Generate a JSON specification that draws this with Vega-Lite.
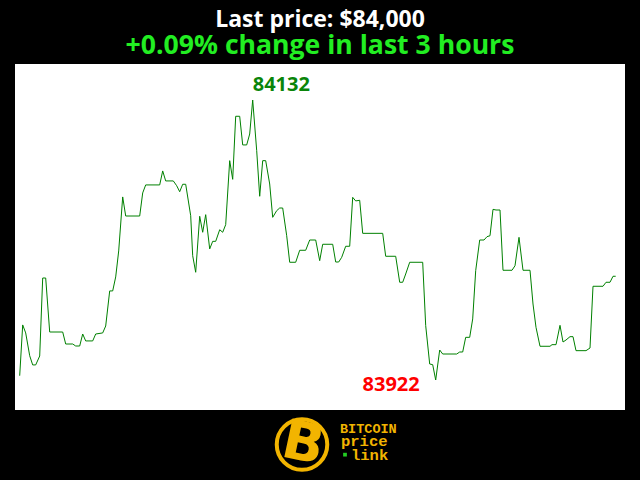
{
  "$schema": "https://vega.github.io/schema/vega-lite/v6.json",
  "autosize": "none",
  "width": 610,
  "height": 346,
  "padding": {"left": 15, "right": 15, "top": 64, "bottom": 70},
  "background": "black",
  "view": {"fill": "white", "stroke": null},
  "title": {
    "text": "Last price: $84,000",
    "subtitle": "+0.09% change in last 3 hours",
    "color": "white",
    "subtitleColor": "#22ee22",
    "font": "Open Sans",
    "subtitleFont": "Open Sans",
    "fontSize": 23,
    "subtitleFontSize": 26.6,
    "fontWeight": "bold",
    "subtitleFontWeight": "bold",
    "anchor": "middle",
    "offset": 4,
    "subtitlePadding": 1
  },
  "datasets": {
    "price": [
      {"t":4.7,"v":83925.2},{"t":7.7,"v":83963.3},{"t":10.7,"v":83957.3},{"t":14.7,"v":83940.2},{"t":17.7,"v":83933.3},{"t":20.7,"v":83933.3},{"t":24.7,"v":83940},{"t":27.7,"v":83998.5},{"t":30.7,"v":83998.5},{"t":34.7,"v":83958},{"t":47.7,"v":83958},{"t":50.7,"v":83949},{"t":57.7,"v":83949},{"t":60.7,"v":83947.5},{"t":64.7,"v":83947.5},{"t":67.7,"v":83956.5},{"t":70.7,"v":83951.3},{"t":77.7,"v":83951.3},{"t":80.7,"v":83956.5},{"t":87.7,"v":83957.3},{"t":90.7,"v":83962.5},{"t":94.7,"v":83988.8},{"t":97.7,"v":83988.8},{"t":100.7,"v":83999.3},{"t":103.7,"v":84018.8},{"t":107.7,"v":84059.3},{"t":110.7,"v":84045},{"t":124.7,"v":84045},{"t":127.7,"v":84062.3},{"t":130.7,"v":84068.3},{"t":144.7,"v":84068.3},{"t":147.7,"v":84078.8},{"t":150.7,"v":84071.3},{"t":158.3,"v":84071.3},{"t":161.7,"v":84067.7},{"t":164.7,"v":84063.2},{"t":167.7,"v":84068.8},{"t":170.7,"v":84068.8},{"t":175.7,"v":84045.2},{"t":177.7,"v":84015.2},{"t":180.7,"v":84002.8},{"t":184.7,"v":84044.8},{"t":187.7,"v":84032.8},{"t":190.7,"v":84046},{"t":194.7,"v":84020.3},{"t":197.7,"v":84026},{"t":200.7,"v":84026},{"t":204.7,"v":84034.7},{"t":207.7,"v":84032.8},{"t":210.7,"v":84038.5},{"t":214.7,"v":84086.5},{"t":217.7,"v":84072.5},{"t":220.7,"v":84119.8},{"t":224.7,"v":84119.8},{"t":227.7,"v":84098.3},{"t":231.7,"v":84098.3},{"t":234.7,"v":84106.5},{"t":237.7,"v":84132},{"t":241.7,"v":84094},{"t":244.7,"v":84059.8},{"t":247.7,"v":84086.5},{"t":250.7,"v":84086.5},{"t":254.7,"v":84069},{"t":257.7,"v":84044},{"t":261.7,"v":84049},{"t":264.7,"v":84051},{"t":267.7,"v":84051},{"t":271.7,"v":84030.2},{"t":274.7,"v":84010.3},{"t":280.7,"v":84010.3},{"t":284.7,"v":84019.3},{"t":290.7,"v":84019.3},{"t":294.7,"v":84027},{"t":300.7,"v":84027},{"t":304.7,"v":84011.5},{"t":307.7,"v":84023.8},{"t":317.7,"v":84023.8},{"t":320.7,"v":84010.5},{"t":323.7,"v":84010.5},{"t":326.7,"v":84014},{"t":330.7,"v":84022.3},{"t":334.7,"v":84022.3},{"t":337.7,"v":84059},{"t":340.7,"v":84056.3},{"t":344.7,"v":84056.8},{"t":347.7,"v":84032},{"t":367.7,"v":84032},{"t":370.7,"v":84014.8},{"t":380.7,"v":84014.8},{"t":384.7,"v":83995.3},{"t":387.7,"v":83995.3},{"t":390.7,"v":84001.5},{"t":394.7,"v":84010.3},{"t":407.7,"v":84010.3},{"t":410.7,"v":83962.8},{"t":414.7,"v":83934},{"t":417.7,"v":83933.5},{"t":420.7,"v":83922},{"t":424.7,"v":83944.5},{"t":427.7,"v":83941.5},{"t":441.7,"v":83941.5},{"t":444.7,"v":83943},{"t":447.7,"v":83943},{"t":450.7,"v":83954},{"t":454.7,"v":83954},{"t":457.7,"v":83967.8},{"t":460.7,"v":84004},{"t":464.7,"v":84027},{"t":469,"v":84027},{"t":472,"v":84029.5},{"t":475,"v":84030.2},{"t":478,"v":84050},{"t":481,"v":84049.5},{"t":485,"v":84049.5},{"t":488,"v":84004.3},{"t":497,"v":84004.3},{"t":500,"v":84007.7},{"t":504,"v":84029},{"t":508,"v":84004.3},{"t":515,"v":84004.3},{"t":518,"v":83979},{"t":521,"v":83961.5},{"t":525,"v":83947.3},{"t":535,"v":83947.3},{"t":537,"v":83948.5},{"t":541,"v":83948.5},{"t":545,"v":83963},{"t":548,"v":83950.5},{"t":551,"v":83952},{"t":555,"v":83954.5},{"t":558,"v":83954.5},{"t":561,"v":83944},{"t":571,"v":83944},{"t":575,"v":83946},{"t":578,"v":83992.3},{"t":588,"v":83992.3},{"t":591,"v":83995.3},{"t":595,"v":83995.3},{"t":598,"v":83999.8},{"t":600.7,"v":83999.8}
    ]
  },
  "data": {"name": "price"},
  "layer": [
    {
      "mark": {"type": "line", "color": "green", "strokeWidth": 1},
      "encoding": {
        "x": {"field": "t", "type": "quantitative", "scale": {"domain": [0, 610], "nice": false, "zero": false}, "axis": null},
        "y": {"field": "v", "type": "quantitative", "scale": {"domain": [83899.5, 84159], "nice": false, "zero": false}, "axis": null}
      }
    },
    {
      "transform": [
        {"joinaggregate": [{"op": "max", "field": "v", "as": "vmax"}]},
        {"filter": "datum.v === datum.vmax"}
      ],
      "mark": {"type": "text", "align": "left", "baseline": "alphabetic", "dy": -9, "font": "Open Sans", "fontWeight": "bold", "fontSize": 20, "color": "#0a850a"},
      "encoding": {
        "x": {"field": "t", "type": "quantitative"},
        "y": {"field": "v", "type": "quantitative"},
        "text": {"field": "v", "type": "quantitative", "format": "d"}
      }
    },
    {
      "transform": [
        {"joinaggregate": [{"op": "min", "field": "v", "as": "vmin"}]},
        {"filter": "datum.v === datum.vmin"}
      ],
      "mark": {"type": "text", "align": "right", "baseline": "alphabetic", "dx": -16, "dy": 11, "font": "Open Sans", "fontWeight": "bold", "fontSize": 20, "color": "red"},
      "encoding": {
        "x": {"field": "t", "type": "quantitative"},
        "y": {"field": "v", "type": "quantitative"},
        "text": {"field": "v", "type": "quantitative", "format": "d"}
      }
    },
    {
      "data": {"values": [{"part": "ring"}]},
      "mark": {"type": "point", "shape": "circle", "size": 2552, "filled": false, "stroke": "#f2b400", "strokeWidth": 4, "opacity": 1},
      "encoding": {
        "x": {"datum": 287, "type": "quantitative"},
        "y": {"datum": 83873.6, "type": "quantitative"}
      }
    },
    {
      "data": {"values": [{"part": "B"}]},
      "mark": {"type": "text", "text": "B", "font": "DejaVu Sans", "fontWeight": "bold", "fontSize": 54, "angle": 12, "align": "center", "baseline": "middle", "color": "#f2b400"},
      "encoding": {
        "x": {"datum": 288, "type": "quantitative"},
        "y": {"datum": 83873.6, "type": "quantitative"}
      }
    },
    {
      "data": {"values": [{"part": "BITCOIN"}]},
      "mark": {"type": "text", "text": "BITCOIN", "font": "Liberation Mono", "fontWeight": "bold", "fontSize": 13.5, "align": "left", "baseline": "alphabetic", "color": "#f2b400"},
      "encoding": {
        "x": {"datum": 325, "type": "quantitative"},
        "y": {"datum": 83882.5, "type": "quantitative"}
      }
    },
    {
      "data": {"values": [{"part": "price"}]},
      "mark": {"type": "text", "text": "price", "font": "Liberation Mono", "fontWeight": "bold", "fontSize": 15.5, "align": "left", "baseline": "alphabetic", "color": "#f2b400"},
      "encoding": {
        "x": {"datum": 326, "type": "quantitative"},
        "y": {"datum": 83872.5, "type": "quantitative"}
      }
    },
    {
      "data": {"values": [{"part": "link"}]},
      "mark": {"type": "text", "text": "link", "font": "Liberation Mono", "fontWeight": "bold", "fontSize": 15.5, "align": "left", "baseline": "alphabetic", "color": "#f2b400"},
      "encoding": {
        "x": {"datum": 336, "type": "quantitative"},
        "y": {"datum": 83862, "type": "quantitative"}
      }
    },
    {
      "data": {"values": [{"part": "dot"}]},
      "mark": {"type": "point", "shape": "square", "size": 14, "filled": true, "color": "#22cc22", "opacity": 1},
      "encoding": {
        "x": {"datum": 330, "type": "quantitative"},
        "y": {"datum": 83866, "type": "quantitative"}
      }
    }
  ]
}
